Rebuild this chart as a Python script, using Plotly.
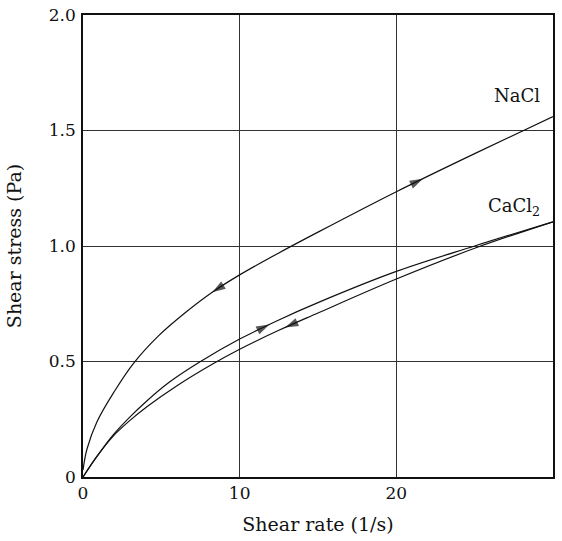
import numpy as np
import plotly.graph_objects as go

# NaCl curve (single loop: up and down coincide)
nacl_x = [0, 0.25, 0.9, 2.0, 3.2, 4.8, 6.5, 8.25, 10, 12.5, 15, 20, 25, 30]
nacl_y = [0.03, 0.12, 0.24, 0.37, 0.49, 0.61, 0.71, 0.80, 0.875, 0.97, 1.06, 1.235, 1.40, 1.56]

# CaCl2 up curve (upper branch)
cacl_up_x = [0, 0.9, 1.9, 3.0, 4.0, 5.5, 7.5, 10, 12.5, 15, 20, 25, 30]
cacl_up_y = [0.0, 0.09, 0.18, 0.26, 0.325, 0.41, 0.50, 0.597, 0.68, 0.755, 0.89, 1.0, 1.105]

# CaCl2 down curve (lower branch)
cacl_dn_x = [0, 0.9, 1.9, 3.0, 4.1, 6.0, 8.3, 10, 12.5, 15, 20, 25, 30]
cacl_dn_y = [0.0, 0.09, 0.175, 0.245, 0.305, 0.395, 0.49, 0.553, 0.635, 0.71, 0.857, 0.99, 1.105]

# arrow head positions (x) and the x of a point behind them on the same curve
arrows = [
    ("nacl", 21.7, 20.5),
    ("nacl", 8.25, 9.5),
    ("up", 11.9, 10.8),
    ("dn", 12.9, 14.0),
]

x_ticks = [0, 10, 20, 30]
y_ticks = [0, 0.5, 1.0, 1.5, 2.0]
y_tick_text = ["0", "0.5", "1.0", "1.5", "2.0"]

FONT = "DejaVu Serif"
curves = {"nacl": (nacl_x, nacl_y), "up": (cacl_up_x, cacl_up_y), "dn": (cacl_dn_x, cacl_dn_y)}

fig = go.Figure()
for key in ["nacl", "up", "dn"]:
    xs, ys = curves[key]
    fig.add_trace(go.Scatter(x=xs, y=ys, mode="lines",
                             line=dict(color="#111", width=1.2, shape="spline", smoothing=1.0),
                             showlegend=False, hoverinfo="skip"))

for key, xh, xt in arrows:
    xs, ys = curves[key]
    fig.add_trace(go.Scatter(
        x=[xt, xh], y=[float(np.interp(xt, xs, ys)), float(np.interp(xh, xs, ys))],
        mode="markers",
        marker=dict(symbol="arrow", angleref="previous", size=[0, 14], color="#111",
                    line=dict(width=0)),
        showlegend=False, hoverinfo="skip"))

fig.add_annotation(x=29.3, y=1.65, xref="x", yref="y", text="NaCl", showarrow=False,
                   xanchor="right", yanchor="middle", font=dict(family=FONT, size=18, color="#111"))
fig.add_annotation(x=29.3, y=1.17, xref="x", yref="y", text="CaCl<sub>2</sub>", showarrow=False,
                   xanchor="right", yanchor="middle", font=dict(family=FONT, size=18, color="#111"))

axis_common = dict(showgrid=True, gridcolor="#333", gridwidth=1, zeroline=False,
                   showline=True, linecolor="#111", linewidth=1.5, mirror=True,
                   ticks="", tickfont=dict(family=FONT, size=17, color="#111"))

fig.update_xaxes(range=[0, 30], tickvals=x_ticks, ticklabelstandoff=0,
                 title=dict(text="Shear rate (1/s)", font=dict(family=FONT, size=19, color="#111"), standoff=16),
                 **axis_common)
fig.update_yaxes(range=[0, 2.0], tickvals=y_ticks, ticktext=y_tick_text, ticklabelstandoff=2,
                 title=dict(text="Shear stress (Pa)", font=dict(family=FONT, size=19, color="#111"), standoff=22),
                 **axis_common)

fig.update_layout(width=562, height=541, margin=dict(l=83, r=9, t=15, b=64, autoexpand=False),
                  plot_bgcolor="white", paper_bgcolor="white")

fig.write_html("out.html")
